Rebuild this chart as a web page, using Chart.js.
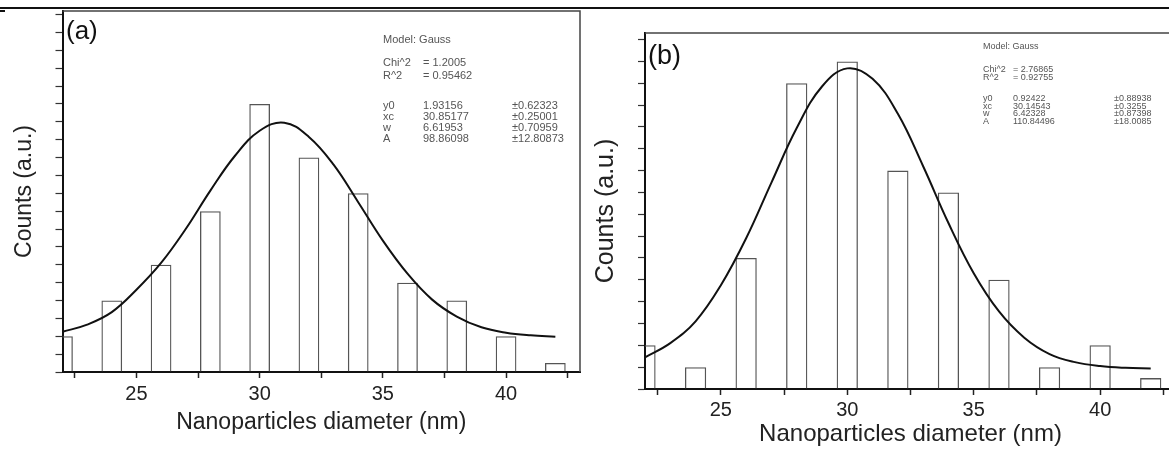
<!DOCTYPE html>
<html>
<head>
<meta charset="utf-8">
<script src="https://cdn.jsdelivr.net/npm/chart.js@4.4.0/dist/chart.umd.min.js"></script>
<style>
  html, body { margin: 0; padding: 0; background: #fff; overflow: hidden; width: 1169px; height: 450px; }
  #rule { position: absolute; left: 0; top: 7px; width: 1169px; height: 2px; background: #111; }
  #mark { position: absolute; left: 0; top: 10px; width: 5px; height: 2px; background: #111; }
  #wrapA { position: absolute; left: 0; top: 0; }
  #wrapB { position: absolute; left: 590px; top: 0; }
</style>
</head>
<body>
<div id="rule"></div>
<div id="mark"></div>
<div id="wrapA"><canvas id="chartA" width="590" height="450"></canvas></div>
<div id="wrapB"><canvas id="chartB" width="600" height="450"></canvas></div>
<script>
// histogram bins (nm) and counts
const binCenters = [22, 24, 26, 28, 30, 32, 34, 36, 38, 40, 42];
const countsA = [2, 4, 6, 9, 15, 12, 10, 5, 4, 2, 0.5];
const countsB = [2, 1, 6, 14, 15, 10, 9, 5, 1, 2, 0.5];

// gauss fit curves
const fitX = [22, 23, 24, 25, 26, 27, 28, 29, 30, 31, 32, 33, 34, 35, 36, 37, 38, 39, 40, 41, 42];
const fitA = [2.25, 2.65, 3.35, 4.6, 6.1, 8.0, 10.15, 12.1, 13.5, 13.95, 13.15, 11.6, 9.5, 7.35, 5.5, 4.05, 3.1, 2.5, 2.2, 2.05, 1.97];
const fitB = [1.45, 2.1, 3.1, 4.75, 6.9, 9.45, 11.95, 13.85, 14.68, 14.2, 12.6, 10.2, 7.6, 5.3, 3.55, 2.35, 1.6, 1.23, 1.05, 0.97, 0.94];

// axis ticks
const xTickValues = [22.5, 25, 27.5, 30, 32.5, 35, 37.5, 40, 42.5];
const xTickLabels = [25, 30, 35, 40];

// fit report text
const fitNames = ['y0', 'xc', 'w', 'A'];
const statsA = ['= 1.2005', '= 0.95462'];
const paramsA = ['1.93156', '30.85177', '6.61953', '98.86098'];
const errorsA = ['±0.62323', '±0.25001', '±0.70959', '±12.80873'];
const statsB = ['= 2.76865', '= 0.92755'];
const paramsB = ['0.92422', '30.14543', '6.42328', '110.84496'];
const errorsB = ['±0.88938', '±0.3255', '±0.87398', '±18.0085'];

const family = '"Liberation Sans", Arial, sans-serif';

const framePlugin = {
  id: 'frame',
  afterDatasetsDraw(chart) {
    const { ctx, chartArea: a } = chart;
    ctx.save();
    ctx.strokeStyle = '#444';
    ctx.lineWidth = 1.5;
    ctx.beginPath();
    ctx.moveTo(a.left, a.top);
    ctx.lineTo(a.right, a.top);
    ctx.lineTo(a.right, a.bottom);
    ctx.stroke();
    ctx.restore();
  }
};

const infoPlugin = {
  id: 'info',
  afterDraw(chart, args, o) {
    const ctx = chart.ctx;
    ctx.save();
    ctx.textBaseline = 'middle';
    ctx.textAlign = 'left';
    ctx.fillStyle = '#111';
    ctx.font = o.tagSize + 'px ' + family;
    ctx.fillText(o.tag, o.tagX, o.tagY);

    ctx.fillStyle = '#555';
    ctx.font = o.size + 'px ' + family;
    const [c1, c2, c3] = o.cols;
    const r = o.rows;
    ctx.fillText('Model: Gauss', c1, r[0]);
    ctx.fillText('Chi^2', c1, r[1]);
    ctx.fillText(o.stats[0], c2, r[1]);
    ctx.fillText('R^2', c1, r[2]);
    ctx.fillText(o.stats[1], c2, r[2]);
    fitNames.forEach((n, i) => {
      ctx.fillText(n, c1, r[3 + i]);
      ctx.fillText(o.params[i], c2, r[3 + i]);
      ctx.fillText(o.errors[i], c3, r[3 + i]);
    });
    ctx.restore();
  }
};

function buildChart(id, o) {
  return new Chart(document.getElementById(id), {
    type: 'bar',
    data: {
      datasets: [
        {
          type: 'line',
          data: fitX.map((x, i) => ({ x: x, y: o.fit[i] })),
          borderColor: '#111',
          borderWidth: 2,
          pointRadius: 0,
          tension: 0.4,
          fill: false,
          order: 0
        },
        {
          type: 'bar',
          data: binCenters.map((x, i) => ({ x: x, y: o.counts[i] })),
          backgroundColor: 'rgba(255,255,255,0)',
          borderColor: '#555',
          borderWidth: 1.3,
          categoryPercentage: 1,
          barPercentage: 0.42,
          order: 1
        }
      ]
    },
    options: {
      responsive: false,
      animation: false,
      devicePixelRatio: 1,
      layout: { padding: o.pad },
      plugins: {
        legend: { display: false },
        tooltip: { enabled: false },
        info: o.info
      },
      scales: {
        x: {
          type: 'linear',
          min: 22,
          max: 43,
          offset: false,
          grid: { offset: false, drawOnChartArea: false, tickLength: 6, color: '#222', tickWidth: 1.5 },
          border: { color: '#111', width: 2 },
          afterBuildTicks: s => { s.ticks = xTickValues.map(v => ({ value: v })); },
          afterFit: s => { s.height = o.xH; },
          ticks: {
            autoSkip: false,
            maxRotation: 0,
            padding: o.tickPad,
            color: '#222',
            font: { family: family, size: 20 },
            callback: v => xTickLabels.includes(v) ? String(v) : ''
          },
          title: {
            display: true,
            text: 'Nanoparticles diameter (nm)',
            color: '#222',
            font: { family: family, size: o.xTitleSize, lineHeight: 1 },
            padding: { top: 0, bottom: o.xTitlePad }
          }
        },
        y: {
          min: 0,
          max: o.yMax,
          grid: { drawOnChartArea: false, tickLength: 7, color: '#333', tickWidth: 1.2 },
          border: { color: '#111', width: 2 },
          afterFit: s => { s.width = o.yW; },
          ticks: { stepSize: 1, includeBounds: false, autoSkip: false, callback: () => '' },
          title: {
            display: true,
            text: 'Counts (a.u.)',
            color: '#222',
            font: { family: family, size: o.yTitleSize, lineHeight: 1 },
            padding: { top: o.yTitlePad, bottom: 0 }
          }
        }
      }
    },
    plugins: [framePlugin, infoPlugin]
  });
}

buildChart('chartA', {
  counts: countsA,
  fit: fitA,
  yMax: 20.2,
  pad: { left: 0, top: 11, right: 10, bottom: 0 },
  yW: 62.5,
  xH: 78,
  tickPad: 4,
  xTitleSize: 23,
  xTitlePad: 16,
  yTitleSize: 23,
  yTitlePad: 13,
  info: {
    tag: '(a)', tagX: 66, tagY: 32, tagSize: 26,
    size: 11, cols: [383, 423, 512], rows: [40, 63, 76, 106, 117, 128, 139],
    stats: statsA, params: paramsA, errors: errorsA
  }
});

buildChart('chartB', {
  counts: countsB,
  fit: fitB,
  yMax: 16.3,
  pad: { left: 0, top: 33, right: 14, bottom: 0 },
  yW: 55,
  xH: 61,
  tickPad: 3,
  xTitleSize: 24,
  xTitlePad: 4,
  yTitleSize: 25,
  yTitlePad: 4,
  info: {
    tag: '(b)', tagX: 58, tagY: 57, tagSize: 27,
    size: 9, cols: [393, 423, 524], rows: [47, 70, 78, 99, 107, 114, 122],
    stats: statsB, params: paramsB, errors: errorsB
  }
});
</script>
</body>
</html>
